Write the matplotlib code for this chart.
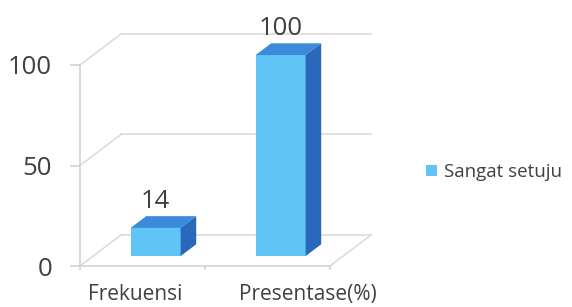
#!/usr/bin/env python3
"""
Pseudo-3D column chart: 'Sangat setuju' counts (Frekuensi vs Presentase).
Oblique projection is done in data units so every mark goes through ax.transData.
"""

import matplotlib
matplotlib.use('Agg')
import matplotlib.pyplot as plt
from matplotlib.patches import Polygon, Rectangle

# --- Data ---
categories = ['Frekuensi', 'Presentase(%)']
values = [14, 100]
series_name = 'Sangat setuju'
yticks = [0, 50, 100]

# --- Style ---
FRONT = '#5EC5F6'
TOP = '#3A8BDA'
SIDE = '#2968BB'
GRID = '#D9D9D9'
TEXT = '#404040'
FONT = 'Open Sans'

W_PX, H_PX = 572, 307


def main():
    plt.rcParams['font.family'] = [FONT, 'DejaVu Sans']

    fig = plt.figure(figsize=(W_PX / 100, H_PX / 100), dpi=100)
    # front plane of the box: x 80..330 px, value 0 at y=266, 100 at y=65
    ax = fig.add_axes([80 / W_PX, 1 - 266 / H_PX, 250 / W_PX, 201 / H_PX])
    ax.set_xlim(-0.5, len(categories) - 0.5)
    ax.set_ylim(0, 100)

    # depth of the box, in data units (41 px right, 31 px up)
    DX = 41 / 125.0
    DY = 31 / 2.01
    # bars occupy this slice of the depth
    f0, f1 = 0.32, 0.70
    bar_w = 0.4

    x0, x1 = ax.get_xlim()

    # back wall gridlines + left wall lines
    for v in yticks:
        ax.plot([x0 + DX, x1 + DX], [v + DY, v + DY], color=GRID, lw=1.1,
                clip_on=False, zorder=1)
        ax.plot([x0, x0 + DX], [v, v + DY], color=GRID, lw=1.1,
                clip_on=False, zorder=1)
    # right edge of the floor
    ax.plot([x1, x1 + DX], [0, DY], color=GRID, lw=1.1, clip_on=False, zorder=1)

    # bars
    for i, v in enumerate(values):
        xl = i - bar_w / 2
        xr = i + bar_w / 2
        ax.add_patch(Rectangle((xl + f0 * DX, f0 * DY), bar_w, v,
                               facecolor=FRONT, edgecolor='none',
                               clip_on=False, zorder=3))
        top = [(xl + f0 * DX, v + f0 * DY), (xr + f0 * DX, v + f0 * DY),
               (xr + f1 * DX, v + f1 * DY), (xl + f1 * DX, v + f1 * DY)]
        ax.add_patch(Polygon(top, closed=True, facecolor=TOP,
                             edgecolor='none', clip_on=False, zorder=3))
        side = [(xr + f0 * DX, f0 * DY), (xr + f1 * DX, f1 * DY),
                (xr + f1 * DX, v + f1 * DY), (xr + f0 * DX, v + f0 * DY)]
        ax.add_patch(Polygon(side, closed=True, facecolor=SIDE,
                             edgecolor='none', clip_on=False, zorder=3))
        # value label above the bar
        ax.annotate(str(v), xy=(i + f0 * DX, v + f1 * DY),
                    xytext=(0, 6.2), textcoords='offset points',
                    ha='center', va='baseline', fontsize=18.5, color=TEXT,
                    annotation_clip=False, zorder=4)

    # axes cosmetics
    for s in ('top', 'right'):
        ax.spines[s].set_visible(False)
    for s in ('left', 'bottom'):
        ax.spines[s].set_color('#CFCFCF')
        ax.spines[s].set_linewidth(1.1)
    ax.set_facecolor('none')

    ax.set_yticks(yticks)
    ax.set_yticklabels([str(t) for t in yticks])
    ax.tick_params(axis='y', length=7, width=1.1, color='#CFCFCF',
                   pad=13, labelsize=18.5, labelcolor=TEXT)

    # category dividers as x ticks, labels drawn separately
    ax.set_xticks([x0 + k for k in range(len(categories) + 1)])
    ax.set_xticklabels([])
    ax.tick_params(axis='x', length=3, width=1.1, color='#CFCFCF')

    # category labels (Excel puts them a bit off-centre)
    label_shift_px = [-7, 40]
    for i, (cat, dxp) in enumerate(zip(categories, label_shift_px)):
        ax.annotate(cat, xy=(i, 0), xycoords=('data', 'axes fraction'),
                    xytext=(dxp * 0.72, -24.5), textcoords='offset points',
                    ha='center', va='baseline', fontsize=15, color=TEXT,
                    annotation_clip=False)

    # legend
    handle = Rectangle((0, 0), 1, 1, facecolor=FRONT, edgecolor='none')
    fig.legend([handle], [series_name], loc='center left',
               bbox_to_anchor=(426 / W_PX, 1 - 172 / H_PX),
               frameon=False, borderpad=0, borderaxespad=0,
               handlelength=0.6, handleheight=0.55, handletextpad=0.35,
               prop={'size': 13.5}, labelcolor=TEXT)

    fig.savefig('out.png', dpi=100)
    plt.close(fig)


if __name__ == '__main__':
    main()
